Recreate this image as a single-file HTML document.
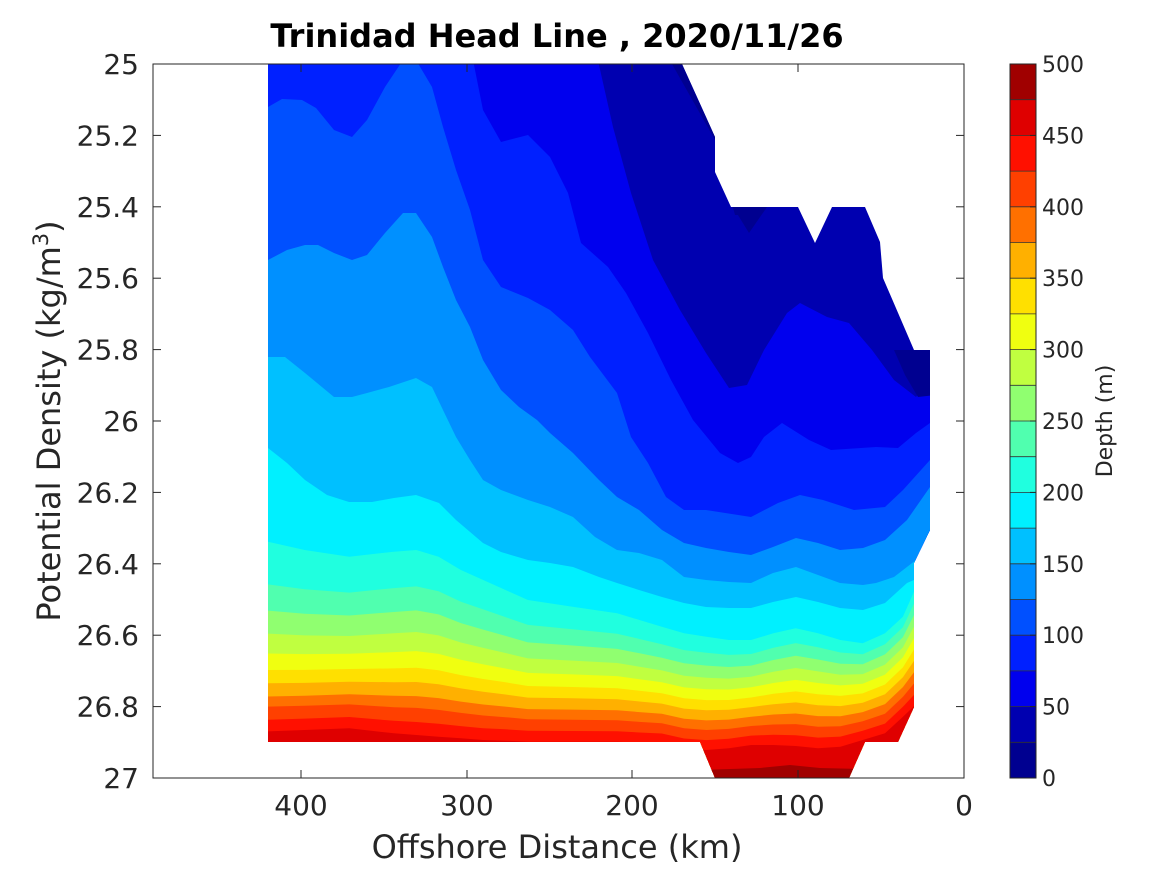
<!DOCTYPE html>
<html><head><meta charset="utf-8"><style>
body{margin:0;background:#fff;}
svg text{font-family:"DejaVu Sans","Liberation Sans",sans-serif;fill:#262626;}
</style></head><body>
<svg id="s" width="1167" height="875" xmlns="http://www.w3.org/2000/svg">
<defs><clipPath id="cp"><polygon points="268,64 682,64 706,117 715,137 715,172 731,207 798,207 815,243 832,207 865,207 880,242 883,278 914,350 930,350 930,530 914,563 914,707 898,742 865,742 849,778 715,778 700,742 268,742"/></clipPath></defs>
<g id="data" clip-path="url(#cp)"></g>
<rect x="153" y="64" width="811" height="714" fill="none" stroke="#262626" stroke-width="1"/>
<g id="ax"></g>
<text x="557" y="47" text-anchor="middle" font-size="32" font-weight="bold" style="fill:#000">Trinidad Head Line , 2020/11/26</text>
<text x="557" y="858" text-anchor="middle" font-size="32">Offshore Distance (km)</text>
<text transform="translate(60,421) rotate(-90)" text-anchor="middle" font-size="32">Potential Density (kg/m<tspan font-size="21" dy="-12">3</tspan><tspan dy="12">)</tspan></text>
<text transform="translate(1112,421) rotate(-90)" text-anchor="middle" font-size="22">Depth (m)</text>
</svg>
<script>
const NS="http://www.w3.org/2000/svg";
const cols=["#000090","#0000b0","#0000ee","#0020ff","#0050ff","#0090ff","#00c0ff","#00f0ff","#20ffdf","#50ffaf","#90ff70","#c0ff40","#f0ff10","#ffe000","#ffb000","#ff7000","#ff4000","#ff1000","#df0000","#a00000"];
const g=document.getElementById('data');
function poly(pts,c){const p=document.createElementNS(NS,'polygon');p.setAttribute('points',pts.map(q=>q[0].toFixed(1)+','+q[1].toFixed(1)).join(' '));p.setAttribute('fill',c);g.appendChild(p);}
function region(curve,c){let pts=curve.slice();pts.unshift([150,curve[0][1]]);if(curve[0][1]<=66){pts.unshift([150,40]);pts.splice(1,1);pts.splice(1,0,[curve[0][0],40]);}
 pts.push([1000,curve[curve.length-1][1]]);pts.push([1000,800]);pts.push([150,800]);poly(pts,c);}
poly([[150,40],[1000,40],[1000,800],[150,800]],cols[1]);
const B2=[[599,50],[599,65],[613,127],[631,193],[653,260],[680,310],[706,353],[729,388],[747,385],[764,350],[787,313],[800,303],[827,317],[849,323],[872,350],[894,380],[916,397],[930,380],[960,370]];
const B3=[[474,50],[474,65],[483,110],[501,142],[528,135],[550,157],[568,193],[581,243],[608,267],[626,293],[648,333],[671,380],[693,420],[720,453],[738,463],[751,457],[764,437],[782,423],[809,440],[831,450],[876,447],[898,448],[916,433],[930,423],[960,410]];
const B4=[[268,107],[282,99],[302,100],[316,108],[334,130],[352,137],[367,120],[385,87],[403,60],[416,60],[432,87],[443,127],[456,170],[470,210],[483,260],[501,287],[528,298],[550,310],[573,330],[590,357],[617,393],[631,437],[648,463],[666,497],[684,510],[706,510],[751,517],[778,503],[800,495],[823,500],[854,510],[885,507],[903,490],[930,460],[960,440]];
const B5=[[268,260],[287,250],[305,245],[318,245],[334,253],[352,260],[367,255],[385,233],[403,213],[416,213],[432,237],[443,267],[456,300],[470,327],[483,360],[501,390],[519,407],[537,420],[550,433],[573,453],[599,480],[617,497],[639,510],[662,530],[684,543],[706,548],[729,552],[751,555],[773,547],[796,538],[818,543],[840,550],[863,548],[885,540],[907,520],[930,487],[960,470]];
const B6=[[268,357],[285,357],[305,373],[334,397],[352,397],[367,393],[389,387],[416,378],[432,387],[443,410],[456,437],[470,460],[483,480],[501,490],[528,500],[550,507],[573,517],[595,537],[617,550],[639,553],[662,560],[684,577],[706,580],[729,582],[751,583],[773,573],[796,567],[818,575],[840,583],[863,585],[876,583],[894,577],[916,560],[960,540]];
const B7=[[268,448],[287,463],[305,480],[327,495],[349,502],[372,502],[394,498],[416,495],[439,503],[456,520],[483,543],[501,552],[528,560],[550,563],[573,567],[599,577],[617,583],[639,590],[662,597],[684,603],[706,607],[729,608],[751,608],[773,602],[796,597],[818,602],[840,608],[863,610],[885,603],[907,583],[960,560]];
[B2,B3,B4,B5,B6,B7].forEach((b,i)=>{const c=b.slice();if(c[0][1]>66)c.unshift([150,c[0][1]]);region(c,cols[i+2]);});
const X=[0,100,200,300,350,400,450,500,550,600,700,800,850,900,950,1000,1050,1100,1150,1200,1250,1300,1350,1400,1440,1480,1520];
const L8=[360,390,410,395,390,410,450,480,510,540,560,580,600,620,640,650,660,660,640,625,640,660,670,640,590,470,440];
const L18=[935,930,925,940,945,950,955,960,962,965,965,965,968,970,985,990,985,975,975,978,985,980,960,940,890,840,830];
const fl=[0,.226,.365,.487,.591,.678,.748,.817,.87,.939,1];
for(let k=8;k<=18;k++){const lin=(k-8)/10,f0=fl[k-8];
 const c=X.map((x,i)=>{const s=Math.min(1,x/1500);const f=f0*(1-s)+lin*s;return [260+x/2.24,420+(L8[i]+f*(L18[i]-L8[i]))/3];});
 c.unshift([150,c[0][1]]);region(c,cols[k]);}
region([[150,770],[700,770],[760,768],[790,765],[820,768],[900,770]],cols[19]);
poly([[672,64],[760,64],[760,215],[735,215],[715,140]],cols[0]);
poly([[733,207],[767,207],[749,233]],cols[0]);
poly([[894,350],[935,350],[935,395],[918,397],[905,375]],cols[0]);
const ax=document.getElementById('ax');
function el(t,a,txt){const e=document.createElementNS(NS,t);for(const k in a)e.setAttribute(k,a[k]);if(txt!==undefined)e.textContent=txt;ax.appendChild(e);return e;}
const yl=["25","25.2","25.4","25.6","25.8","26","26.2","26.4","26.6","26.8","27"];
yl.forEach((t,i)=>{const y=64+i*71.4;el('line',{x1:153,x2:161,y1:y,y2:y,stroke:'#262626'});el('line',{x1:956,x2:964,y1:y,y2:y,stroke:'#262626'});
 el('text',{x:139,y:y+10,'text-anchor':'end','font-size':28},t);});
[[400,301],[300,467],[200,632],[100,798],[0,964]].forEach(([t,x])=>{el('line',{x1:x,x2:x,y1:778,y2:770,stroke:'#262626'});el('line',{x1:x,x2:x,y1:64,y2:72,stroke:'#262626'});
 el('text',{x:x,y:815,'text-anchor':'middle','font-size':28},String(t));});
for(let i=0;i<20;i++){const y0=778-(i+1)*35.7;el('rect',{x:1010,y:y0,width:26,height:35.7,fill:cols[i]});}
for(let i=0;i<=20;i++){const y=778-i*35.7;el('line',{x1:1010,x2:1036,y1:y,y2:y,stroke:'#333','stroke-width':0.8});}
el('rect',{x:1010,y:64,width:26,height:714,fill:'none',stroke:'#262626'});
for(let i=0;i<=10;i++){const y=778-i*71.4;el('line',{x1:1030,x2:1036,y1:y,y2:y,stroke:'#262626'});el('text',{x:1042,y:y+8,'font-size':22},String(i*50));}
</script>
</body></html>
